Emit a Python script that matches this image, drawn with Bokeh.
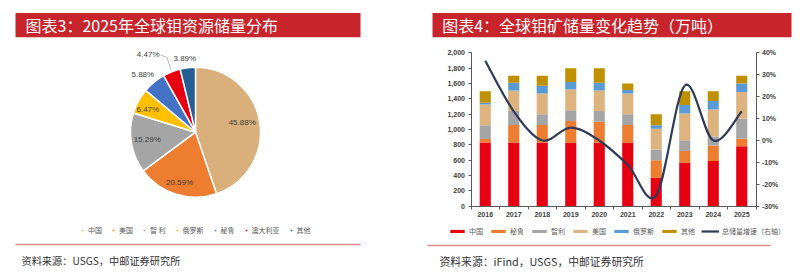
import math
from bokeh.plotting import figure
from bokeh.models import (ColumnDataSource, Range1d, LinearAxis, FixedTicker, Legend,
                          LegendItem, NumeralTickFormatter, PrintfTickFormatter)
from bokeh.core.properties import value
from bokeh.embed import file_html
from bokeh.resources import INLINE

# ---------------- data ----------------
pie_labels = ["中国", "美国", "智 利", "俄罗斯", "秘鲁", "澳大利亚", "其他"]
pie_values = [45.88, 20.59, 15.29, 6.47, 5.88, 4.47, 3.89]
pie_colors = ["#D9B07C", "#ED7D31", "#A5A5A5", "#FFC000", "#4472C4", "#E60012", "#255E91"]

years = ["2016", "2017", "2018", "2019", "2020", "2021", "2022", "2023", "2024", "2025"]
china = [830, 830, 830, 830, 830, 830, 370, 570, 590, 780]
peru = [45, 230, 230, 280, 270, 230, 230, 150, 200, 100]
chile = [180, 180, 140, 140, 140, 140, 140, 140, 120, 260]
usa = [270, 270, 270, 270, 270, 270, 270, 350, 350, 350]
russia = [25, 100, 100, 100, 100, 45, 45, 110, 110, 110]
others = [150, 90, 130, 180, 190, 85, 145, 180, 130, 100]
growth = [36.4, 13.3, 0.0, 5.9, 0.0, -11.1, -25.0, 25.0, 0.0, 13.3]
series_names = ["中国", "秘鲁", "智利", "美国", "俄罗斯", "其他"]
series_colors = ["#E60012", "#ED7D31", "#A5A5A5", "#DDB47F", "#5B9BD5", "#BF9000"]
line_name = "总储量增速（右轴）"
left_ticks = [0, 200, 400, 600, 800, 1000, 1200, 1400, 1600, 1800, 2000]
right_ticks = [-30, -20, -10, 0, 10, 20, 30, 40]

title_left = "图表3：2025年全球钼资源储量分布"
title_right = "图表4：全球钼矿储量变化趋势（万吨）"
source_left = "资料来源：USGS，中邮证券研究所"
source_right = "资料来源：iFind，USGS，中邮证券研究所"

# ---------------- styles / layout constants ----------------
CJK = "Noto Sans CJK SC"
TITLE_RED = "#C8242B"
SEP = "#D9898C"
TXT = "#333333"
AX = "#595959"
LBL = "#404040"
W, H = 803, 275


def Y(y_img):
    return H - y_img


# plot area of the bar chart (pixels from top-left)
PL, PR, PT, PB = 470.5, 755.5, 52.3, 205.7

p = figure(width=W, height=H, x_range=Range1d(0, W), y_range=Range1d(0, H),
           output_backend="svg", toolbar_location=None, min_border=0,
           x_axis_type=None, y_axis_type=None, outline_line_color=None)
p.grid.visible = False

nx = len(years)
ux = nx / (PR - PL)
uy = (left_ticks[-1] - left_ticks[0]) / (PB - PT)
ug = (right_ticks[-1] - right_ticks[0]) / (PB - PT)
p.extra_x_ranges = {"bx": Range1d(-0.5 - PL * ux, nx - 0.5 + (W - PR) * ux)}
p.extra_y_ranges = {
    "by": Range1d(left_ticks[0] - (H - PB) * uy, left_ticks[-1] + PT * uy),
    "gy": Range1d(right_ticks[0] - (H - PB) * ug, right_ticks[-1] + PT * ug),
}

# ---------------- titles, separators, sources ----------------
p.quad(left=[15, 432], right=[360, 791], bottom=Y(36.7), top=Y(12.5), color=TITLE_RED, line_color=None)
p.text(x=[25, 441.7], y=[Y(24.5), Y(24.5)], text=[title_left, title_right], text_font=value(CJK),
       text_font_size="16px", text_color="white", text_baseline="middle")
p.segment(x0=[15, 427], y0=[Y(244), Y(245)], x1=[360, 770], y1=[Y(244), Y(245)],
          line_color=SEP, line_width=1.5)
p.text(x=[21], y=[Y(260)], text=[source_left], text_font=value(CJK),
       text_font_size="10.2px", text_color=TXT, text_baseline="middle")
p.text(x=[439], y=[Y(260)], text=[source_right], text_font=value(CJK),
       text_font_size="10.8px", text_color=TXT, text_baseline="middle")

# ---------------- pie ----------------
cx, cy, r = 195, Y(131.7), 65
tot = sum(pie_values)
starts, ends = [], []
cum = 0.0
for v in pie_values:
    starts.append(math.pi / 2 - 2 * math.pi * cum / tot)
    cum += v
    ends.append(math.pi / 2 - 2 * math.pi * cum / tot)
psrc = ColumnDataSource(dict(start=starts, end=ends, color=pie_colors, label=pie_labels))
w = p.wedge(x=cx, y=cy, radius=r, start_angle="start", end_angle="end", direction="clock",
            fill_color="color", line_color="white", line_width=1.5, source=psrc)

lab_xy = [(241.7, 121.7), (179, 182.3), (146.7, 139), (147.3, 109.3),
          (142.3, 74.3), (147.7, 54), (184.3, 57.7)]
p.text(x=[q[0] for q in lab_xy], y=[Y(q[1]) for q in lab_xy],
       text=["%.2f%%" % v for v in pie_values], text_font=value("Liberation Sans"),
       text_font_size="8px", text_color="#404040", text_align="center", text_baseline="middle")
p.line(x=[160, 166.5, 170.5], y=[Y(54.5), Y(57), Y(69)], line_color="#A6A6A6", line_width=0.8)

pleg = Legend(items=[LegendItem(label=lb, renderers=[w], index=i) for i, lb in enumerate(pie_labels)],
              orientation="horizontal", location=(80, Y(234.5)), glyph_width=4, glyph_height=4,
              label_standoff=4, spacing=9, padding=0, margin=0, border_line_color=None,
              background_fill_alpha=0, label_text_font=CJK, label_text_font_size="7px",
              label_text_color="#595959", label_height=9, label_width=0)
p.add_layout(pleg)

# ---------------- stacked bars + growth line ----------------
xs = list(range(nx))
bsrc = ColumnDataSource(dict(x=xs, china=china, peru=peru, chile=chile, usa=usa,
                             russia=russia, others=others))
stack_keys = ["china", "peru", "chile", "usa", "russia", "others"]
bars = p.vbar_stack(stack_keys, x="x", width=0.39, color=series_colors, line_color=None,
                    source=bsrc, x_range_name="bx", y_range_name="by")

n = len(growth)
px, py = xs, growth
x0, y0, x1, y1, c0x, c0y, c1x, c1y = [], [], [], [], [], [], [], []
for i in range(n - 1):
    pm_x, pm_y = (px[i - 1], py[i - 1]) if i > 0 else (px[i], py[i])
    pp_x, pp_y = (px[i + 2], py[i + 2]) if i + 2 < n else (px[i + 1], py[i + 1])
    x0.append(px[i]); y0.append(py[i]); x1.append(px[i + 1]); y1.append(py[i + 1])
    c0x.append(px[i] + (px[i + 1] - pm_x) / 6); c0y.append(py[i] + (py[i + 1] - pm_y) / 6)
    c1x.append(px[i + 1] - (pp_x - px[i]) / 6); c1y.append(py[i + 1] - (pp_y - py[i]) / 6)
lsrc = ColumnDataSource(dict(x0=x0, y0=y0, x1=x1, y1=y1, cx0=c0x, cy0=c0y, cx1=c1x, cy1=c1y))
ln = p.bezier(x0="x0", y0="y0", x1="x1", y1="y1", cx0="cx0", cy0="cy0", cx1="cx1", cy1="cy1",
              line_color="#2E3A59", line_width=2.2, source=lsrc, x_range_name="bx", y_range_name="gy")

# axes drawn at the plot-area edges
xa = LinearAxis(x_range_name="bx", fixed_location=Y(PB), bounds=(-0.5, nx - 0.5),
                ticker=FixedTicker(ticks=xs, minor_ticks=[i - 0.5 for i in range(nx + 1)]))
xa.major_label_overrides = {i: yv for i, yv in enumerate(years)}
xa.major_tick_out = 0
xa.major_tick_in = 0
xa.minor_tick_out = 3
xa.minor_tick_in = 0
p.add_layout(xa, "below")

ya = LinearAxis(y_range_name="by", fixed_location=PL, bounds=(left_ticks[0], left_ticks[-1]),
                ticker=FixedTicker(ticks=left_ticks), formatter=NumeralTickFormatter(format="0,0"))
ya.major_tick_out = 3
ya.major_tick_in = 0
ya.minor_tick_out = 0
p.add_layout(ya, "left")

ra = LinearAxis(y_range_name="gy", fixed_location=PR, bounds=(right_ticks[0], right_ticks[-1]),
                ticker=FixedTicker(ticks=right_ticks), formatter=PrintfTickFormatter(format="%d%%"))
ra.major_tick_out = 3
ra.major_tick_in = 0
ra.minor_tick_out = 0
p.add_layout(ra, "right")

for a in (xa, ya, ra):
    a.axis_line_color = AX
    a.major_tick_line_color = AX
    a.minor_tick_line_color = AX
    a.major_label_text_font = "Liberation Sans"
    a.major_label_text_font_size = "7px"
    a.major_label_text_font_style = "bold"
    a.major_label_text_color = LBL
    a.major_label_standoff = 3

items = [LegendItem(label=nm, renderers=[b]) for nm, b in zip(series_names, bars)]
items.append(LegendItem(label=line_name, renderers=[ln]))
leg = Legend(items=items, orientation="horizontal", location=(448, Y(236)), glyph_width=18,
             glyph_height=4, label_standoff=3, spacing=6, padding=0, margin=0,
             border_line_color=None, background_fill_alpha=0, label_text_font=CJK,
             label_text_font_size="7px", label_text_color="#595959", label_height=9,
             label_width=0)
p.add_layout(leg)

open("out.html", "w").write(file_html(p, INLINE))
